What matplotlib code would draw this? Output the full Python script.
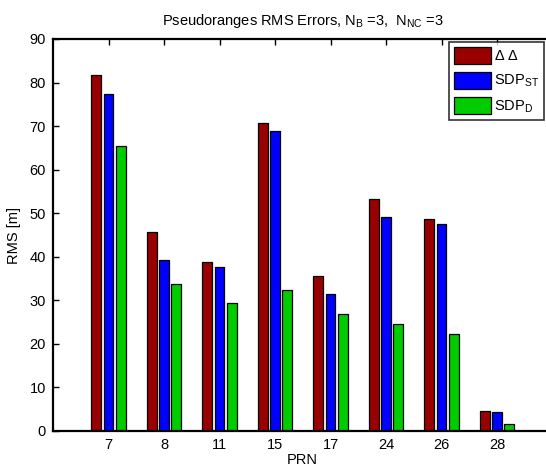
import matplotlib.pyplot as plt
import numpy as np

plt.rcParams['font.family'] = ['Liberation Sans', 'DejaVu Sans']
plt.rcParams['mathtext.fontset'] = 'custom'
plt.rcParams['mathtext.rm'] = 'Liberation Sans'
plt.rcParams['mathtext.it'] = 'Liberation Sans'

# RMS errors per satellite
prn = ['7', '8', '11', '15', '17', '24', '26', '28']
dd = [81.7, 45.8, 38.9, 70.8, 35.7, 53.3, 48.7, 4.7]
sdp_st = [77.4, 39.3, 37.7, 68.9, 31.5, 49.1, 47.5, 4.3]
sdp_d = [65.4, 33.7, 29.5, 32.3, 26.8, 24.6, 22.3, 1.6]

series = [dd, sdp_st, sdp_d]
labels = [r'$\Delta\ \Delta$', r'SDP$_{\mathrm{ST}}$', r'SDP$_{\mathrm{D}}$']
colors = ['#990000', '#0000ff', '#00cc00']

fig = plt.figure(figsize=(5.46, 4.72), dpi=100)
ax = fig.add_axes([53 / 546, 1 - 431 / 472, 499.5 / 546, 392 / 472])

x = np.arange(1, len(prn) + 1)
w = 0.18
step = 0.222
for i, (vals, lab, c) in enumerate(zip(series, labels, colors)):
    ax.bar(x + (i - 1) * step, vals, w, color=c, edgecolor='black',
           linewidth=0.9, label=lab, zorder=2)

ax.set_xlim(0, 9)
ax.set_ylim(0, 90)
ax.set_xticks(x)
ax.set_xticklabels(prn)
ax.set_yticks(np.arange(0, 91, 10))
ax.tick_params(direction='in', top=True, right=True, length=4, width=1,
               labelsize=10.5, pad=5)
for s in ax.spines.values():
    s.set_linewidth(1.6)

ax.set_xlabel('PRN', fontsize=10.5, labelpad=1)
ax.set_ylabel('RMS [m]', fontsize=10.5, labelpad=6)
ax.set_title(r'Pseudoranges RMS Errors, N$_{\mathrm{B}}$ =3,  N$_{\mathrm{NC}}$ =3',
             fontsize=10.5, pad=10)

leg = ax.legend(loc='upper left', bbox_to_anchor=(0.793, 0.993), fontsize=10.5,
                frameon=True, fancybox=False, edgecolor='black',
                handlelength=2.5, handleheight=1.4, handletextpad=0.2,
                borderpad=0.35, labelspacing=0.55, borderaxespad=0)
leg.get_frame().set_linewidth(1.2)

fig.savefig('out.png', dpi=100)
